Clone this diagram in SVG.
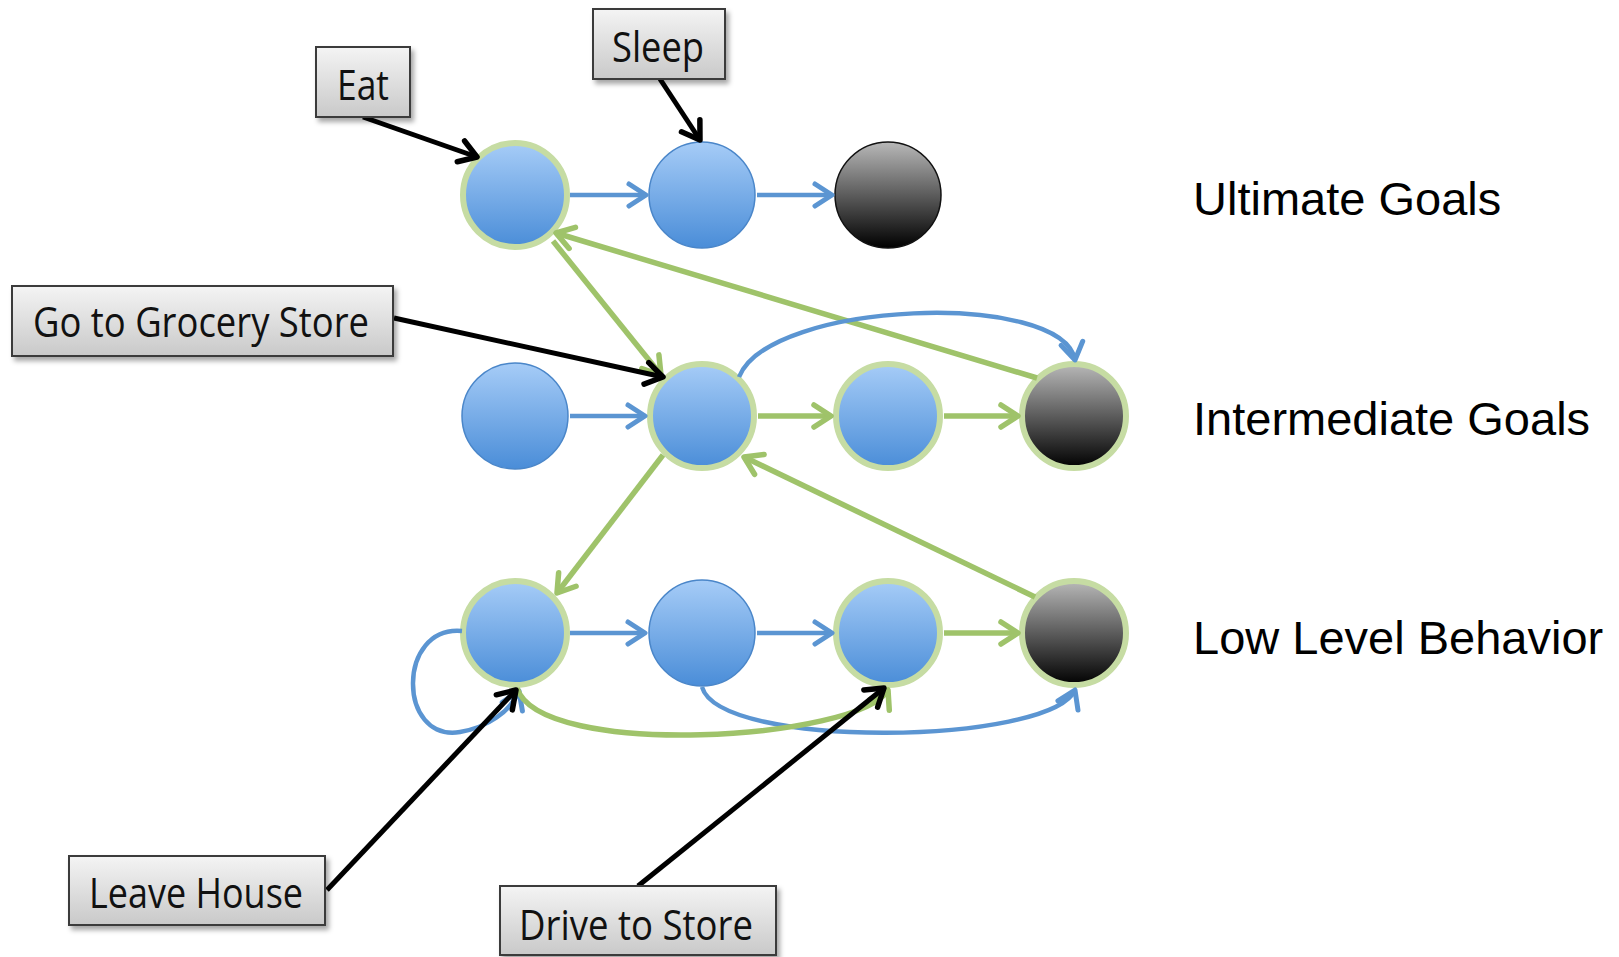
<svg xmlns="http://www.w3.org/2000/svg" width="1619" height="957" viewBox="0 0 1619 957">
<style>
.box{fill:url(#gbox);stroke:#3a3a3a;stroke-width:2;filter:url(#sh)}
.bt{font-family:"Open Sans","Noto Sans",sans-serif;font-size:42px;fill:#111;text-anchor:middle}
.lbl{font-family:"Liberation Sans",Arial,sans-serif;font-size:47px;fill:#000}
.nb{fill:url(#gblue);stroke:#4a86c9;stroke-width:1.5}
.nr{fill:url(#gblue);stroke:#c6dca3;stroke-width:6}
.kb{fill:url(#gblack);stroke:#111;stroke-width:1.5}
.kr{fill:url(#gblack);stroke:#c6dca3;stroke-width:6}
.cb{fill:none;stroke:#5b95d2;stroke-width:4.5;marker-end:url(#mb)}
.cg{fill:none;stroke:#9fc36a;stroke-width:5.5;marker-end:url(#mg)}
.ck{fill:none;stroke:#000;stroke-width:5;marker-end:url(#mk)}
</style>
<defs>
<linearGradient id="gbox" x1="0" y1="0" x2="0" y2="1"><stop offset="0" stop-color="#f4f4f4"/><stop offset="1" stop-color="#c9c9c9"/></linearGradient>
<linearGradient id="gblue" x1="0" y1="0" x2="0" y2="1"><stop offset="0" stop-color="#a6ccf7"/><stop offset="1" stop-color="#4a8dd8"/></linearGradient>
<linearGradient id="gblack" x1="0" y1="0" x2="0" y2="1"><stop offset="0" stop-color="#b8b8b8"/><stop offset="1" stop-color="#000"/></linearGradient>
<filter id="sh" x="-10%" y="-10%" width="130%" height="140%"><feDropShadow dx="3" dy="4" stdDeviation="2.5" flood-color="#000" flood-opacity="0.35"/></filter>
<marker id="mb" markerUnits="userSpaceOnUse" viewBox="-24 -15 28 30" refX="0" refY="0" markerWidth="28" markerHeight="30" orient="auto" overflow="visible"><path d="M-17,-11 L0,0 L-17,11" fill="none" stroke="#5b95d2" stroke-width="5" stroke-linecap="round" stroke-linejoin="round"/></marker>
<marker id="mg" markerUnits="userSpaceOnUse" viewBox="-24 -15 28 30" refX="0" refY="0" markerWidth="28" markerHeight="30" orient="auto" overflow="visible"><path d="M-17,-11 L0,0 L-17,11" fill="none" stroke="#9fc36a" stroke-width="5.5" stroke-linecap="round" stroke-linejoin="round"/></marker>
<marker id="mk" markerUnits="userSpaceOnUse" viewBox="-24 -15 28 30" refX="0" refY="0" markerWidth="28" markerHeight="30" orient="auto" overflow="visible"><path d="M-17,-11 L0,0 L-17,11" fill="none" stroke="#000" stroke-width="5.5" stroke-linecap="round" stroke-linejoin="round"/></marker>
</defs>
<rect width="1619" height="957" fill="#fff"/>

<g id="nodes">
<g id="u1"><circle class="nr" cx="515" cy="195" r="52"/></g>
<g id="u2"><circle class="nb" cx="702" cy="195" r="53"/></g>
<g id="u3"><circle class="kb" cx="888" cy="195" r="53"/></g>
<g id="m1"><circle class="nb" cx="515" cy="416" r="53"/></g>
<g id="m2"><circle class="nr" cx="702" cy="416" r="52"/></g>
<g id="m3"><circle class="nr" cx="888" cy="416" r="52"/></g>
<g id="m4"><circle class="kr" cx="1074" cy="416" r="52"/></g>
<g id="l1"><circle class="nr" cx="515" cy="633" r="52"/></g>
<g id="l2"><circle class="nb" cx="702" cy="633" r="53"/></g>
<g id="l3"><circle class="nr" cx="888" cy="633" r="52"/></g>
<g id="l4"><circle class="kr" cx="1074" cy="633" r="52"/></g>
</g>

<g id="connectors">
<path class="cb" d="M570,195 L646,195"/>
<path class="cb" d="M757,195 L832,195"/>
<path class="cb" d="M570,416 L645,416"/>
<path class="cb" d="M570,633 L645,633"/>
<path class="cb" d="M757,633 L832,633"/>
<path class="cg" d="M758,416 L831,416"/>
<path class="cg" d="M944,416 L1018,416"/>
<path class="cg" d="M944,633 L1018,633"/>
<path class="cg" d="M1037,378 L556,233"/>
<path class="cg" d="M553,241 L661,375"/>
<path class="cg" d="M663,455 L557,593"/>
<path class="cg" d="M1035,597 L744,457"/>
<path class="cb" d="M739,377 C770,300 1062,290 1075,360"/>
<path class="cb" d="M462,631 C397,625 397,742 460,732 C488,727 510,712 519,691"/>
<path class="cb" d="M702,687 C720,750 1050,745 1075,690"/>
<path class="cg" d="M517,688 C540,760 860,740 888,690"/>
<path class="ck" d="M363,117 L477,157"/>
<path class="ck" d="M660,79 L700,140"/>
<path class="ck" d="M394,318 L663,377"/>
<path class="ck" d="M327,890 L516,690"/>
<path class="ck" d="M638,886 L884,688"/>
</g>

<g id="eat"><rect class="box" x="316" y="47" width="94" height="70"/><text class="bt" x="363" y="100" textLength="52" lengthAdjust="spacingAndGlyphs">Eat</text></g>
<g id="sleep"><rect class="box" x="593" y="9" width="132" height="70"/><text class="bt" x="658" y="62" textLength="92" lengthAdjust="spacingAndGlyphs">Sleep</text></g>
<g id="grocery"><rect class="box" x="12" y="286" width="381" height="70"/><text class="bt" x="201" y="337" textLength="336" lengthAdjust="spacingAndGlyphs">Go to Grocery Store</text></g>
<g id="leave"><rect class="box" x="69" y="856" width="256" height="69"/><text class="bt" x="196" y="908" textLength="214" lengthAdjust="spacingAndGlyphs">Leave House</text></g>
<g id="drive"><rect class="box" x="500" y="886" width="276" height="69"/><text class="bt" x="636" y="940" textLength="234" lengthAdjust="spacingAndGlyphs">Drive to Store</text></g>

<g id="levels">
<text class="lbl" x="1193" y="215">Ultimate Goals</text>
<text class="lbl" x="1193" y="435">Intermediate Goals</text>
<text class="lbl" x="1193" y="654">Low Level Behavior</text>
</g>
</svg>
